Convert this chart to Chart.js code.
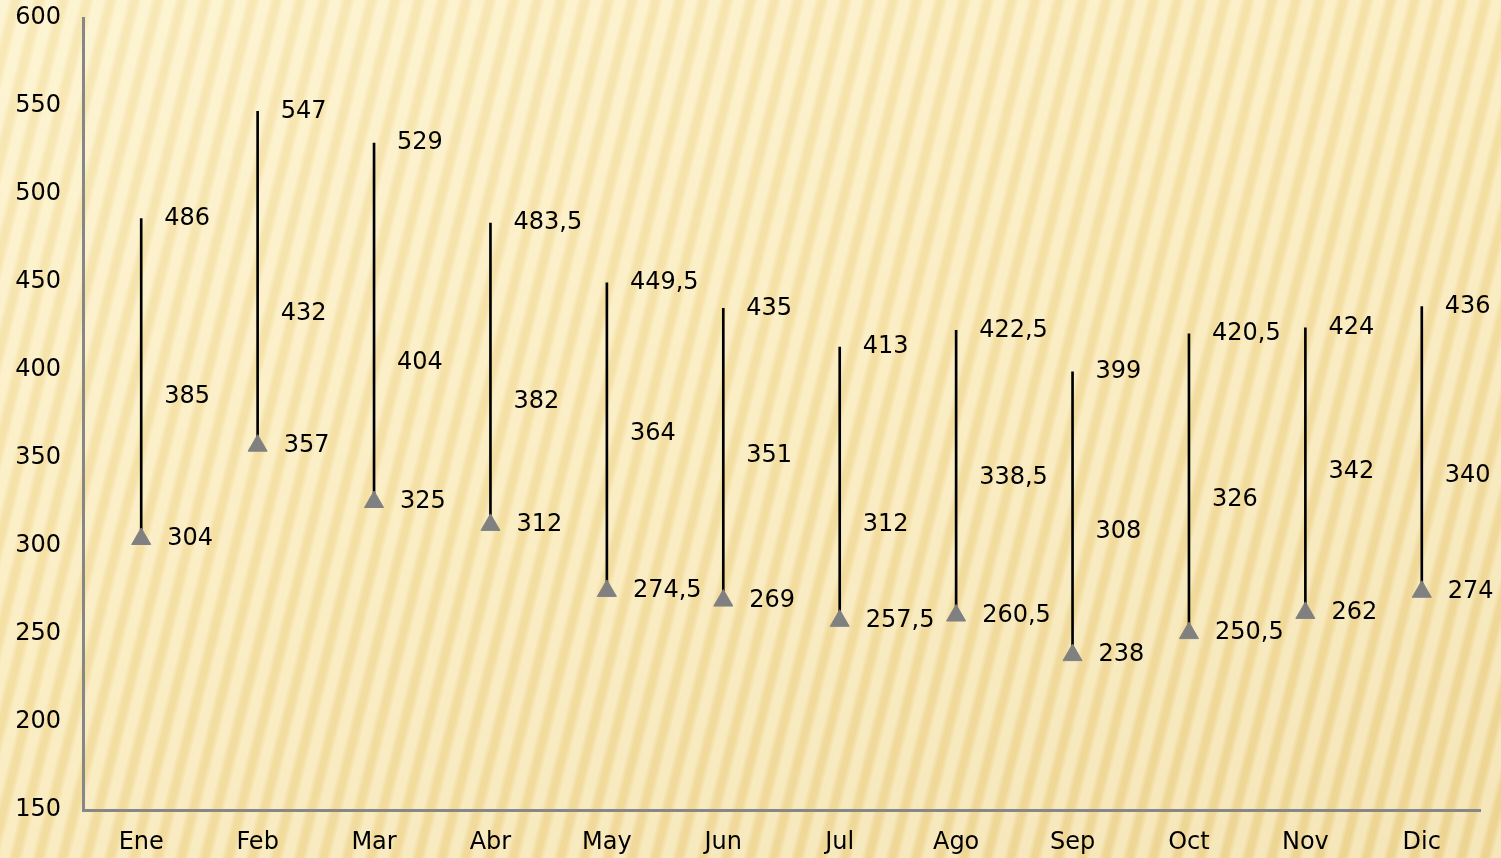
<!DOCTYPE html>
<html>
<head>
<meta charset="utf-8">
<script src="https://cdn.jsdelivr.net/npm/chart.js@4"></script>
<style>
  html, body { margin: 0; padding: 0; }
  body {
    width: 1501px; height: 858px; overflow: hidden;
    background:
      repeating-linear-gradient(104deg, rgba(255,250,228,0.42) 0px, rgba(255,250,228,0.42) 8px, rgba(220,182,86,0.13) 13px, rgba(220,182,86,0.13) 18px, rgba(255,250,228,0.42) 23px),
      linear-gradient(160deg, #fcf0c6 0%, #f8e6b0 45%, #efd89b 100%);
  }
  #wrap { position: absolute; left: 0; top: 0; width: 1501px; height: 858px; }
</style>
</head>
<body>
<div id="wrap"><canvas id="c" width="1501" height="858"></canvas></div>
<script>
const months = ["Ene", "Feb", "Mar", "Abr", "May", "Jun", "Jul", "Ago", "Sep", "Oct", "Nov", "Dic"];
const highs = [486, 547, 529, 483.5, 449.5, 435, 413, 422.5, 399, 420.5, 424, 436];
const mids = [385, 432, 404, 382, 364, 351, 312, 338.5, 308, 326, 342, 340];
const lows = [304, 357, 325, 312, 274.5, 269, 257.5, 260.5, 238, 250.5, 262, 274];

const FONT = { family: "'DejaVu Sans', sans-serif", size: 24 };

function fmt(v) {
  return String(v).replace(".", ",");
}

// writes the high / mid / low numbers to the right of each stick
const valueLabels = {
  id: "valueLabels",
  afterDatasetsDraw(chart) {
    const { ctx, scales } = chart;
    ctx.save();
    ctx.font = `${FONT.size}px ${FONT.family}`;
    ctx.fillStyle = "#000";
    ctx.textAlign = "left";
    ctx.textBaseline = "middle";
    months.forEach((m, i) => {
      const x = scales.x.getPixelForValue(i);
      ctx.fillText(fmt(highs[i]), x + 23, scales.y.getPixelForValue(highs[i]));
      ctx.fillText(fmt(mids[i]), x + 23, scales.y.getPixelForValue(mids[i]));
      ctx.fillText(fmt(lows[i]), x + 26, scales.y.getPixelForValue(lows[i]));
    });
    ctx.restore();
  }
};

new Chart(document.getElementById("c").getContext("2d"), {
  type: "bar",
  data: {
    labels: months,
    datasets: [
      {
        type: "bar",
        label: "Rango",
        data: lows.map((l, i) => [l, highs[i]]),
        backgroundColor: "#000",
        borderWidth: 0,
        barThickness: 2,
        order: 2,
      },
      {
        type: "line",
        label: "Medio",
        data: mids,
        showLine: false,
        pointRadius: 0,
        order: 1,
      },
      {
        type: "line",
        label: "Mínimo",
        data: lows,
        showLine: false,
        pointStyle: "triangle",
        pointRadius: 11,
        pointBackgroundColor: "#808080",
        pointBorderColor: "#808080",
        pointBorderWidth: 1,
        order: 0,
      },
    ],
  },
  options: {
    responsive: false,
    animation: false,
    layout: { autoPadding: false, padding: { top: 18, right: 21, left: 0, bottom: 0 } },
    plugins: {
      legend: { display: false },
      tooltip: { enabled: false },
    },
    scales: {
      x: {
        offset: true,
        grid: { display: false, drawTicks: false },
        border: { display: true, color: "#878787", width: 3 },
        ticks: { color: "#000", font: FONT, padding: 18 },
        afterFit: (s) => { s.height = 48; s.paddingLeft = 0; s.paddingRight = 0; },
      },
      y: {
        min: 150,
        max: 600,
        grid: { display: false, drawTicks: false },
        border: { display: true, color: "#878787", width: 3 },
        ticks: { stepSize: 50, color: "#000", font: FONT, padding: 22 },
        afterFit: (s) => { s.width = 83; s.paddingTop = 0; s.paddingBottom = 0; },
      },
    },
  },
  plugins: [valueLabels],
});
</script>
</body>
</html>
